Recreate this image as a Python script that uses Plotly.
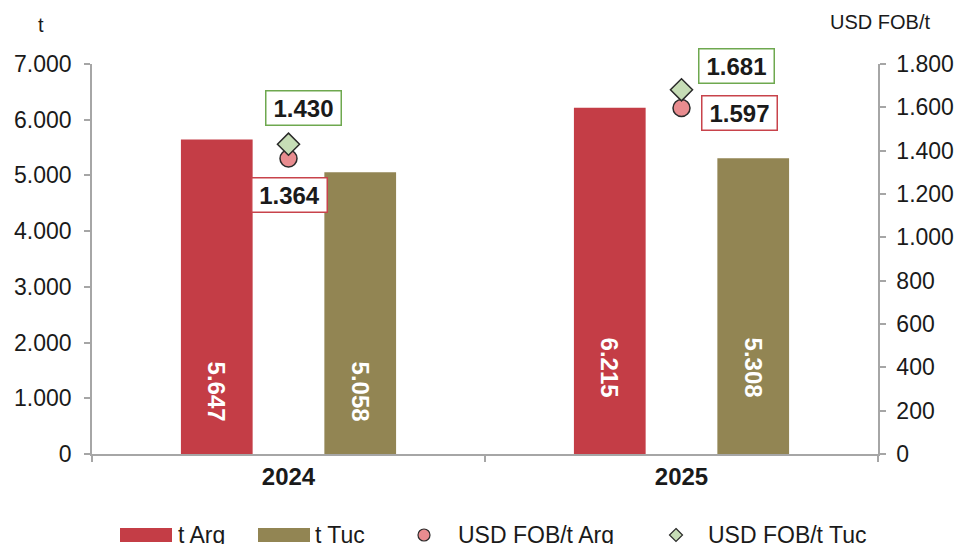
import plotly.graph_objects as go

years = ["2024", "2025"]
t_arg = [5647, 6215]
t_tuc = [5058, 5308]
usd_arg = [1364, 1597]
usd_tuc = [1430, 1681]

left_ticks = [0, 1000, 2000, 3000, 4000, 5000, 6000, 7000]
left_labels = ["0", "1.000", "2.000", "3.000", "4.000", "5.000", "6.000", "7.000"]
right_ticks = [0, 200, 400, 600, 800, 1000, 1200, 1400, 1600, 1800]
right_labels = ["0", "200", "400", "600", "800", "1.000", "1.200", "1.400", "1.600", "1.800"]

def fmt(v):
    return f"{v:,}".replace(",", ".")

RED = "#C43D46"
OLIVE = "#928553"
CIRCLE = "#E88C8F"
DIAMOND = "#C6DDB6"
GREEN_BOX = "#6EA84F"
RED_BOX = "#C8434B"
AXIS = "#A6A6A6"
FONT = "Liberation Sans, Arial, sans-serif"
NARROW = "Liberation Sans Narrow, Arial Narrow, Liberation Sans, sans-serif"

# page body margin offset (browser default 8px)
OFF = 8
W, H = 963 - OFF, 544 - OFF
PLOT_L, PLOT_R, PLOT_T, PLOT_B = 92, 878, 64, 454  # screen pixels
L, R, T, B = PLOT_L - OFF, W - (PLOT_R - OFF), PLOT_T - OFF, H - (PLOT_B - OFF)
PW, PH = PLOT_R - PLOT_L, PLOT_B - PLOT_T

def px(x):
    return (x - PLOT_L) / PW

def py(y):
    return (PLOT_B - y) / PH

fig = go.Figure()
fig.add_trace(go.Bar(x=years, y=t_arg, name="t Arg", marker=dict(color=RED, line=dict(width=0)), showlegend=False))
fig.add_trace(go.Bar(x=years, y=t_tuc, name="t Tuc", marker=dict(color=OLIVE, line=dict(width=0)), showlegend=False))
fig.add_trace(go.Scatter(x=years, y=usd_arg, name="USD FOB/t Arg", yaxis="y2", mode="markers",
                         marker=dict(symbol="circle", size=17, color=CIRCLE, line=dict(color="#2a2a2a", width=1.5)),
                         showlegend=False))
fig.add_trace(go.Scatter(x=years, y=usd_tuc, name="USD FOB/t Tuc", yaxis="y2", mode="markers",
                         marker=dict(symbol="diamond", size=17, color=DIAMOND, line=dict(color="#2a2a2a", width=1.5)),
                         showlegend=False))

annotations = []
# bar value labels (rotated, white, inside bars)
bar_label_y = [1130, 1560]
for i, yr in enumerate(years):
    for vals, shift in ((t_arg, -72), (t_tuc, 72)):
        annotations.append(dict(x=i, y=bar_label_y[i], xref="x", yref="y", text=fmt(vals[i]),
                                showarrow=False, textangle=90, xshift=shift,
                                font=dict(family=NARROW, size=24, color="white", weight="bold")))

# boxed price labels
tuc_shift = [(15, 36), (55, 24)]
arg_shift = [(1, -37), (58, -5)]
for i, yr in enumerate(years):
    annotations.append(dict(x=i, y=usd_tuc[i], xref="x", yref="y2", text=fmt(usd_tuc[i]), showarrow=False,
                            xshift=tuc_shift[i][0], yshift=tuc_shift[i][1], width=72, height=31,
                            bgcolor="white", bordercolor=GREEN_BOX, borderwidth=1.5, borderpad=1,
                            font=dict(family=NARROW, size=24, color="#1a1a1a", weight="bold")))
    annotations.append(dict(x=i, y=usd_arg[i], xref="x", yref="y2", text=fmt(usd_arg[i]), showarrow=False,
                            xshift=arg_shift[i][0], yshift=arg_shift[i][1], width=72, height=31,
                            bgcolor="white", bordercolor=RED_BOX, borderwidth=1.5, borderpad=1,
                            font=dict(family=NARROW, size=24, color="#1a1a1a", weight="bold")))

# axis titles
annotations.append(dict(x=px(41), y=py(25), xref="paper", yref="paper", text="t", showarrow=False,
                        xanchor="center", yanchor="middle", font=dict(family=FONT, size=20, color="#1a1a1a")))
annotations.append(dict(x=px(880), y=py(22), xref="paper", yref="paper", text="USD FOB/t", showarrow=False,
                        xanchor="center", yanchor="middle", font=dict(family=FONT, size=20, color="#1a1a1a")))

# manual legend
shapes = []
leg_y = 535
shapes.append(dict(type="rect", xref="paper", yref="paper", x0=px(120), x1=px(172), y0=py(leg_y + 7), y1=py(leg_y - 7),
                   fillcolor=RED, line=dict(width=0)))
shapes.append(dict(type="rect", xref="paper", yref="paper", x0=px(258), x1=px(310), y0=py(leg_y + 7), y1=py(leg_y - 7),
                   fillcolor=OLIVE, line=dict(width=0)))
shapes.append(dict(type="circle", xref="paper", yref="paper", x0=px(418), x1=px(430), y0=py(leg_y + 6), y1=py(leg_y - 6),
                   fillcolor=CIRCLE, line=dict(color="#2a2a2a", width=1.2)))
cx, cy, r = 676, leg_y, 6.5
shapes.append(dict(type="path", xref="paper", yref="paper",
                   path=f"M {px(cx)} {py(cy - r)} L {px(cx + r)} {py(cy)} L {px(cx)} {py(cy + r)} L {px(cx - r)} {py(cy)} Z",
                   fillcolor=DIAMOND, line=dict(color="#2a2a2a", width=1.2)))
for xpos, txt in ((176, "t Arg"), (313, "t Tuc"), (456, "USD FOB/t Arg"), (706, "USD FOB/t Tuc")):
    annotations.append(dict(x=px(xpos), y=py(leg_y), xref="paper", yref="paper", text=txt, showarrow=False,
                            xanchor="left", yanchor="middle", font=dict(family=FONT, size=23, color="#1a1a1a")))

fig.update_layout(
    width=W, height=H,
    margin=dict(l=L, r=R, t=T, b=B, pad=0, autoexpand=False),
    paper_bgcolor="white", plot_bgcolor="white",
    barmode="group", bargap=0.27, bargroupgap=0.5,
    showlegend=False,
    xaxis=dict(type="category", categoryorder="array", categoryarray=years, range=[-0.5, 1.5], autorange=False,
               automargin=False, showline=True, linecolor=AXIS, linewidth=1.5,
               ticks="outside", tickcolor=AXIS, ticklen=6, tickwidth=1.5, tickson="boundaries", tickangle=0,
               showgrid=False, zeroline=False,
               tickfont=dict(family=FONT, size=24, color="#1a1a1a", weight="bold")),
    yaxis=dict(range=[0, 7000], autorange=False, automargin=False, tickvals=left_ticks, ticktext=left_labels,
               showline=True, linecolor=AXIS,
               linewidth=1.5, ticks="outside", tickcolor=AXIS, ticklen=6, tickwidth=1.5, showgrid=False,
               zeroline=False, ticklabelstandoff=8,
               tickfont=dict(family=FONT, size=23, color="#1a1a1a")),
    yaxis2=dict(range=[0, 1800], autorange=False, automargin=False, tickvals=right_ticks, ticktext=right_labels,
                overlaying="y", side="right",
                showline=True, linecolor=AXIS, linewidth=1.5, ticks="outside", tickcolor=AXIS, ticklen=6,
                tickwidth=1.5, showgrid=False, zeroline=False, ticklabelstandoff=6,
                tickfont=dict(family=FONT, size=23, color="#1a1a1a")),
    annotations=annotations,
    shapes=shapes,
)

fig.write_html("out.html")
